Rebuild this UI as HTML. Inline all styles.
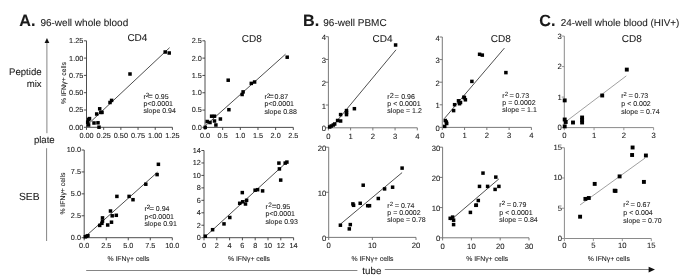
<!DOCTYPE html>
<html><head><meta charset="utf-8">
<style>
html,body{margin:0;padding:0;background:#fff;}
body{width:685px;height:279px;overflow:hidden;}
svg{display:block;filter:blur(0.3px);}
text{font-family:"Liberation Sans",sans-serif;fill:#1a1a1a;stroke:#1a1a1a;stroke-width:0.08px;text-rendering:geometricPrecision;}
</style></head>
<body>
<svg width="685" height="279" viewBox="0 0 685 279">
<rect width="685" height="279" fill="#fff"/>
<!-- panel headers -->
<text x="19.2" y="26.3" font-size="16.2" font-weight="bold">A.</text>
<text x="40.4" y="26.2" font-size="10">96-well whole blood</text>
<text x="303.0" y="26.0" font-size="16.2" font-weight="bold">B.</text>
<text x="323.3" y="26.0" font-size="10">96-well PBMC</text>
<text x="539.2" y="26.2" font-size="16.2" font-weight="bold">C.</text>
<text x="560.7" y="26.2" font-size="9.92">24-well whole blood (HIV+)</text>
<!-- row labels -->
<text x="41.6" y="75.2" font-size="9.6" text-anchor="end">Peptide</text>
<text x="41.6" y="87.0" font-size="9.6" text-anchor="end">mix</text>
<text x="39.6" y="200.2" font-size="10.3" text-anchor="end">SEB</text>
<text x="44.3" y="142.5" font-size="9.6" text-anchor="middle">plate</text>
<!-- vertical arrow -->
<path d="M46.9 42V133.2M46.6 148.2V241" stroke="#777" stroke-width="0.9"/>
<path d="M46.95 37.9L44.6 42.9L49.3 42.9Z" fill="#111"/>
<!-- horizontal arrow -->
<path d="M86.2 270.5H357.4" stroke="#777" stroke-width="0.9"/><path d="M384.8 269.5H650" stroke="#777" stroke-width="0.9"/>
<path d="M655 269.6L648.6 266.8L648.6 272.4Z" fill="#111"/>
<text x="371.9" y="273.8" font-size="9.8" text-anchor="middle">tube</text>
<path d="M86.5 40.8V127.3H172.4" fill="none" stroke="#3a3a3a" stroke-width="0.9"/>
<path d="M83.9 127.30H86.5" stroke="#3a3a3a" stroke-width="0.9"/>
<text x="83.30" y="129.70" text-anchor="end" font-size="7.3">0.00</text>
<path d="M83.9 110.00H86.5" stroke="#3a3a3a" stroke-width="0.9"/>
<text x="83.30" y="112.40" text-anchor="end" font-size="7.3">0.25</text>
<path d="M83.9 92.70H86.5" stroke="#3a3a3a" stroke-width="0.9"/>
<text x="83.30" y="95.10" text-anchor="end" font-size="7.3">0.50</text>
<path d="M83.9 75.40H86.5" stroke="#3a3a3a" stroke-width="0.9"/>
<text x="83.30" y="77.80" text-anchor="end" font-size="7.3">0.75</text>
<path d="M83.9 58.10H86.5" stroke="#3a3a3a" stroke-width="0.9"/>
<text x="83.30" y="60.50" text-anchor="end" font-size="7.3">1.00</text>
<path d="M83.9 40.80H86.5" stroke="#3a3a3a" stroke-width="0.9"/>
<text x="83.30" y="43.20" text-anchor="end" font-size="7.3">1.25</text>
<path d="M86.50 127.3V129.9" stroke="#3a3a3a" stroke-width="0.9"/>
<text x="86.50" y="137.50" text-anchor="middle" font-size="7.3">0.00</text>
<path d="M103.68 127.3V129.9" stroke="#3a3a3a" stroke-width="0.9"/>
<text x="103.68" y="137.50" text-anchor="middle" font-size="7.3">0.25</text>
<path d="M120.86 127.3V129.9" stroke="#3a3a3a" stroke-width="0.9"/>
<text x="120.86" y="137.50" text-anchor="middle" font-size="7.3">0.50</text>
<path d="M138.04 127.3V129.9" stroke="#3a3a3a" stroke-width="0.9"/>
<text x="138.04" y="137.50" text-anchor="middle" font-size="7.3">0.75</text>
<path d="M155.22 127.3V129.9" stroke="#3a3a3a" stroke-width="0.9"/>
<text x="155.22" y="137.50" text-anchor="middle" font-size="7.3">1.00</text>
<path d="M172.40 127.3V129.9" stroke="#3a3a3a" stroke-width="0.9"/>
<text x="172.40" y="137.50" text-anchor="middle" font-size="7.3">1.25</text>
<path d="M86.6 125.6L169.6 47.7" stroke="#222" stroke-width="0.8"/>
<rect x="86.85" y="117.75" width="3.5" height="3.5" fill="#000"/>
<rect x="85.95" y="120.45" width="3.5" height="3.5" fill="#000"/>
<rect x="86.85" y="123.25" width="3.5" height="3.5" fill="#000"/>
<rect x="92.25" y="121.25" width="3.5" height="3.5" fill="#000"/>
<rect x="96.25" y="121.05" width="3.5" height="3.5" fill="#000"/>
<rect x="97.25" y="125.45" width="3.5" height="3.5" fill="#000"/>
<rect x="94.95" y="112.25" width="3.5" height="3.5" fill="#000"/>
<rect x="97.95" y="107.05" width="3.5" height="3.5" fill="#000"/>
<rect x="99.05" y="110.65" width="3.5" height="3.5" fill="#000"/>
<rect x="100.25" y="110.65" width="3.5" height="3.5" fill="#000"/>
<rect x="108.25" y="100.75" width="3.5" height="3.5" fill="#000"/>
<rect x="109.85" y="98.65" width="3.5" height="3.5" fill="#000"/>
<rect x="87.75" y="116.85" width="3.5" height="3.5" fill="#000"/>
<rect x="128.25" y="72.25" width="3.5" height="3.5" fill="#000"/>
<rect x="163.45" y="50.25" width="3.5" height="3.5" fill="#000"/>
<rect x="167.45" y="51.25" width="3.5" height="3.5" fill="#000"/>
<text transform="translate(127.4 41.3) scale(1 1)" font-size="10">CD4</text>
<text x="143.55" y="98.9" font-size="7.0">r</text>
<text x="145.70" y="96.50" font-size="6.2">2</text>
<text x="147.85" y="98.9" font-size="8.6">=</text>
<text x="155.00" y="98.9" font-size="7.0">0.95</text>
<text x="143.55" y="106.05" font-size="7.0">p&lt;0.0001</text>
<text x="143.55" y="113.20" font-size="7.0">slope 0.94</text>
<text transform="translate(65.5 83.0) rotate(-90)" text-anchor="middle" font-size="6.85">% IFN&#947;+ cells</text>
<path d="M205.0 40.8V127.4H293.3" fill="none" stroke="#3a3a3a" stroke-width="0.9"/>
<path d="M202.4 127.40H205.0" stroke="#3a3a3a" stroke-width="0.9"/>
<text x="201.80" y="129.80" text-anchor="end" font-size="7.3">0.0</text>
<path d="M202.4 110.08H205.0" stroke="#3a3a3a" stroke-width="0.9"/>
<text x="201.80" y="112.48" text-anchor="end" font-size="7.3">0.5</text>
<path d="M202.4 92.76H205.0" stroke="#3a3a3a" stroke-width="0.9"/>
<text x="201.80" y="95.16" text-anchor="end" font-size="7.3">1.0</text>
<path d="M202.4 75.44H205.0" stroke="#3a3a3a" stroke-width="0.9"/>
<text x="201.80" y="77.84" text-anchor="end" font-size="7.3">1.5</text>
<path d="M202.4 58.12H205.0" stroke="#3a3a3a" stroke-width="0.9"/>
<text x="201.80" y="60.52" text-anchor="end" font-size="7.3">2.0</text>
<path d="M202.4 40.80H205.0" stroke="#3a3a3a" stroke-width="0.9"/>
<text x="201.80" y="43.20" text-anchor="end" font-size="7.3">2.5</text>
<path d="M205.00 127.4V130.0" stroke="#3a3a3a" stroke-width="0.9"/>
<text x="205.00" y="137.60" text-anchor="middle" font-size="7.3">0.0</text>
<path d="M222.66 127.4V130.0" stroke="#3a3a3a" stroke-width="0.9"/>
<text x="222.66" y="137.60" text-anchor="middle" font-size="7.3">0.5</text>
<path d="M240.32 127.4V130.0" stroke="#3a3a3a" stroke-width="0.9"/>
<text x="240.32" y="137.60" text-anchor="middle" font-size="7.3">1.0</text>
<path d="M257.98 127.4V130.0" stroke="#3a3a3a" stroke-width="0.9"/>
<text x="257.98" y="137.60" text-anchor="middle" font-size="7.3">1.5</text>
<path d="M275.64 127.4V130.0" stroke="#3a3a3a" stroke-width="0.9"/>
<text x="275.64" y="137.60" text-anchor="middle" font-size="7.3">2.0</text>
<path d="M293.30 127.4V130.0" stroke="#3a3a3a" stroke-width="0.9"/>
<text x="293.30" y="137.60" text-anchor="middle" font-size="7.3">2.5</text>
<path d="M205.2 125.9L285.5 54.2" stroke="#222" stroke-width="0.8"/>
<rect x="203.45" y="125.65" width="3.5" height="3.5" fill="#000"/>
<rect x="205.45" y="119.75" width="3.5" height="3.5" fill="#000"/>
<rect x="208.25" y="120.75" width="3.5" height="3.5" fill="#000"/>
<rect x="209.85" y="114.45" width="3.5" height="3.5" fill="#000"/>
<rect x="212.75" y="114.45" width="3.5" height="3.5" fill="#000"/>
<rect x="212.75" y="119.25" width="3.5" height="3.5" fill="#000"/>
<rect x="214.15" y="123.25" width="3.5" height="3.5" fill="#000"/>
<rect x="218.65" y="117.25" width="3.5" height="3.5" fill="#000"/>
<rect x="227.15" y="107.95" width="3.5" height="3.5" fill="#000"/>
<rect x="240.35" y="92.75" width="3.5" height="3.5" fill="#000"/>
<rect x="241.35" y="90.15" width="3.5" height="3.5" fill="#000"/>
<rect x="226.45" y="78.45" width="3.5" height="3.5" fill="#000"/>
<rect x="249.55" y="81.65" width="3.5" height="3.5" fill="#000"/>
<rect x="252.85" y="80.25" width="3.5" height="3.5" fill="#000"/>
<rect x="285.45" y="55.45" width="3.5" height="3.5" fill="#000"/>
<text transform="translate(241.8 42.3) scale(1 1)" font-size="10">CD8</text>
<text x="264.55" y="98.7" font-size="7.0">r</text>
<text x="266.75" y="97.60" font-size="6.3">2</text>
<text x="268.85" y="98.7" font-size="8.6">=</text>
<text x="274.50" y="98.7" font-size="7.0">0.87</text>
<text x="264.55" y="106.10" font-size="7.0">p&lt;0.0001</text>
<text x="264.55" y="113.50" font-size="7.0">slope 0.88</text>
<path d="M328.4 36.7V127.8H417.3" fill="none" stroke="#6a6a6a" stroke-width="0.9"/>
<path d="M325.79999999999995 127.80H328.4" stroke="#6a6a6a" stroke-width="0.9"/>
<text x="326.00" y="131.30" text-anchor="end" font-size="7.7">0</text>
<path d="M325.79999999999995 105.03H328.4" stroke="#6a6a6a" stroke-width="0.9"/>
<text x="326.00" y="108.53" text-anchor="end" font-size="7.7">1</text>
<path d="M325.79999999999995 82.25H328.4" stroke="#6a6a6a" stroke-width="0.9"/>
<text x="326.00" y="85.75" text-anchor="end" font-size="7.7">2</text>
<path d="M325.79999999999995 59.48H328.4" stroke="#6a6a6a" stroke-width="0.9"/>
<text x="326.00" y="62.98" text-anchor="end" font-size="7.7">3</text>
<path d="M325.79999999999995 36.70H328.4" stroke="#6a6a6a" stroke-width="0.9"/>
<text x="326.00" y="40.20" text-anchor="end" font-size="7.7">4</text>
<path d="M328.40 127.8V130.4" stroke="#6a6a6a" stroke-width="0.9"/>
<text x="328.40" y="138.50" text-anchor="middle" font-size="7.7">0</text>
<path d="M350.62 127.8V130.4" stroke="#6a6a6a" stroke-width="0.9"/>
<text x="350.62" y="138.50" text-anchor="middle" font-size="7.7">1</text>
<path d="M372.85 127.8V130.4" stroke="#6a6a6a" stroke-width="0.9"/>
<text x="372.85" y="138.50" text-anchor="middle" font-size="7.7">2</text>
<path d="M395.07 127.8V130.4" stroke="#6a6a6a" stroke-width="0.9"/>
<text x="395.07" y="138.50" text-anchor="middle" font-size="7.7">3</text>
<path d="M417.30 127.8V130.4" stroke="#6a6a6a" stroke-width="0.9"/>
<text x="417.30" y="138.50" text-anchor="middle" font-size="7.7">4</text>
<path d="M332.0 126.9L396.0 49.8" stroke="#222" stroke-width="0.8"/>
<rect x="327.95" y="125.25" width="3.5" height="3.5" fill="#000"/>
<rect x="329.55" y="124.25" width="3.5" height="3.5" fill="#000"/>
<rect x="331.55" y="123.25" width="3.5" height="3.5" fill="#000"/>
<rect x="332.95" y="122.25" width="3.5" height="3.5" fill="#000"/>
<rect x="335.85" y="118.75" width="3.5" height="3.5" fill="#000"/>
<rect x="338.85" y="119.25" width="3.5" height="3.5" fill="#000"/>
<rect x="338.85" y="112.85" width="3.5" height="3.5" fill="#000"/>
<rect x="344.75" y="108.85" width="3.5" height="3.5" fill="#000"/>
<rect x="344.75" y="112.85" width="3.5" height="3.5" fill="#000"/>
<rect x="344.75" y="110.75" width="3.5" height="3.5" fill="#000"/>
<rect x="352.65" y="106.95" width="3.5" height="3.5" fill="#000"/>
<rect x="393.85" y="43.25" width="3.5" height="3.5" fill="#000"/>
<text transform="translate(372.6 42.3) scale(1 1)" font-size="10">CD4</text>
<text x="387.35" y="99.0" font-size="7.0">r</text>
<text x="389.70" y="98.00" font-size="7.3">2</text>
<text x="394.60" y="99.0" font-size="7.6">=</text>
<text x="401.20" y="99.0" font-size="7.0">0.96</text>
<text x="387.35" y="106.15" font-size="7.0">p &lt; 0.0001</text>
<text x="387.35" y="113.30" font-size="7.0">slope = 1.2</text>
<path d="M442.3 37.0V127.4H531.4" fill="none" stroke="#6a6a6a" stroke-width="0.9"/>
<path d="M439.7 127.40H442.3" stroke="#6a6a6a" stroke-width="0.9"/>
<text x="439.90" y="130.90" text-anchor="end" font-size="7.7">0</text>
<path d="M439.7 104.80H442.3" stroke="#6a6a6a" stroke-width="0.9"/>
<text x="439.90" y="108.30" text-anchor="end" font-size="7.7">1</text>
<path d="M439.7 82.20H442.3" stroke="#6a6a6a" stroke-width="0.9"/>
<text x="439.90" y="85.70" text-anchor="end" font-size="7.7">2</text>
<path d="M439.7 59.60H442.3" stroke="#6a6a6a" stroke-width="0.9"/>
<text x="439.90" y="63.10" text-anchor="end" font-size="7.7">3</text>
<path d="M439.7 37.00H442.3" stroke="#6a6a6a" stroke-width="0.9"/>
<text x="439.90" y="40.50" text-anchor="end" font-size="7.7">4</text>
<path d="M442.30 127.4V130.0" stroke="#6a6a6a" stroke-width="0.9"/>
<text x="442.30" y="138.10" text-anchor="middle" font-size="7.7">0</text>
<path d="M464.57 127.4V130.0" stroke="#6a6a6a" stroke-width="0.9"/>
<text x="464.57" y="138.10" text-anchor="middle" font-size="7.7">1</text>
<path d="M486.85 127.4V130.0" stroke="#6a6a6a" stroke-width="0.9"/>
<text x="486.85" y="138.10" text-anchor="middle" font-size="7.7">2</text>
<path d="M509.12 127.4V130.0" stroke="#6a6a6a" stroke-width="0.9"/>
<text x="509.12" y="138.10" text-anchor="middle" font-size="7.7">3</text>
<path d="M531.40 127.4V130.0" stroke="#6a6a6a" stroke-width="0.9"/>
<text x="531.40" y="138.10" text-anchor="middle" font-size="7.7">4</text>
<path d="M444.3 118.6L504.4 48.1" stroke="#222" stroke-width="0.8"/>
<rect x="442.95" y="124.65" width="3.5" height="3.5" fill="#000"/>
<rect x="443.55" y="118.75" width="3.5" height="3.5" fill="#000"/>
<rect x="444.55" y="120.25" width="3.5" height="3.5" fill="#000"/>
<rect x="444.95" y="121.75" width="3.5" height="3.5" fill="#000"/>
<rect x="451.85" y="108.85" width="3.5" height="3.5" fill="#000"/>
<rect x="452.85" y="102.95" width="3.5" height="3.5" fill="#000"/>
<rect x="456.75" y="99.05" width="3.5" height="3.5" fill="#000"/>
<rect x="457.75" y="101.95" width="3.5" height="3.5" fill="#000"/>
<rect x="458.75" y="100.75" width="3.5" height="3.5" fill="#000"/>
<rect x="462.65" y="96.05" width="3.5" height="3.5" fill="#000"/>
<rect x="463.65" y="98.05" width="3.5" height="3.5" fill="#000"/>
<rect x="462.15" y="95.45" width="3.5" height="3.5" fill="#000"/>
<rect x="470.15" y="79.65" width="3.5" height="3.5" fill="#000"/>
<rect x="477.85" y="52.55" width="3.5" height="3.5" fill="#000"/>
<rect x="480.55" y="53.35" width="3.5" height="3.5" fill="#000"/>
<rect x="504.15" y="70.85" width="3.5" height="3.5" fill="#000"/>
<text transform="translate(490.7 42.3) scale(1 1)" font-size="10">CD8</text>
<text x="502.35" y="97.8" font-size="7.0">r</text>
<text x="504.75" y="96.20" font-size="6.2">2</text>
<text x="509.50" y="97.8" font-size="7.6">=</text>
<text x="515.50" y="97.8" font-size="7.0">0.73</text>
<text x="502.35" y="104.95" font-size="7.0">p = 0.0002</text>
<text x="502.35" y="112.10" font-size="7.0">slope = 1.1</text>
<path d="M564.3 36.1V127.6H653.6" fill="none" stroke="#8a8a8a" stroke-width="1.0"/>
<path d="M561.6999999999999 127.60H564.3" stroke="#8a8a8a" stroke-width="0.9"/>
<text x="561.90" y="130.00" text-anchor="end" font-size="7.7">0</text>
<path d="M561.6999999999999 97.10H564.3" stroke="#8a8a8a" stroke-width="0.9"/>
<text x="561.90" y="99.50" text-anchor="end" font-size="7.7">1</text>
<path d="M561.6999999999999 66.60H564.3" stroke="#8a8a8a" stroke-width="0.9"/>
<text x="561.90" y="69.00" text-anchor="end" font-size="7.7">2</text>
<path d="M561.6999999999999 36.10H564.3" stroke="#8a8a8a" stroke-width="0.9"/>
<text x="561.90" y="38.50" text-anchor="end" font-size="7.7">3</text>
<path d="M564.30 127.6V130.2" stroke="#8a8a8a" stroke-width="0.9"/>
<text x="564.30" y="137.80" text-anchor="middle" font-size="7.7">0</text>
<path d="M594.07 127.6V130.2" stroke="#8a8a8a" stroke-width="0.9"/>
<text x="594.07" y="137.80" text-anchor="middle" font-size="7.7">1</text>
<path d="M623.83 127.6V130.2" stroke="#8a8a8a" stroke-width="0.9"/>
<text x="623.83" y="137.80" text-anchor="middle" font-size="7.7">2</text>
<path d="M653.60 127.6V130.2" stroke="#8a8a8a" stroke-width="0.9"/>
<text x="653.60" y="137.80" text-anchor="middle" font-size="7.7">3</text>
<path d="M564.7 122.5L626.3 75.9" stroke="#777" stroke-width="0.7"/>
<rect x="562.75" y="98.45" width="3.9" height="3.9" fill="#000"/>
<rect x="562.75" y="117.55" width="3.9" height="3.9" fill="#000"/>
<rect x="563.75" y="120.05" width="3.9" height="3.9" fill="#000"/>
<rect x="562.75" y="124.45" width="3.9" height="3.9" fill="#000"/>
<rect x="571.05" y="120.55" width="3.9" height="3.9" fill="#000"/>
<rect x="580.15" y="115.55" width="3.9" height="3.9" fill="#000"/>
<rect x="580.15" y="118.05" width="3.9" height="3.9" fill="#000"/>
<rect x="580.15" y="120.55" width="3.9" height="3.9" fill="#000"/>
<rect x="600.25" y="93.55" width="3.9" height="3.9" fill="#000"/>
<rect x="624.85" y="67.65" width="3.9" height="3.9" fill="#000"/>
<text transform="translate(621.8 42.0) scale(1 1)" font-size="10">CD8</text>
<text x="621.3" y="98.1" font-size="7.0">r</text>
<text x="623.40" y="96.30" font-size="5.8">2</text>
<text x="628.40" y="98.1" font-size="7.6">=</text>
<text x="634.60" y="98.1" font-size="7.0">0.73</text>
<text x="621.3" y="106.05" font-size="7.0">p &lt; 0.002</text>
<text x="621.3" y="114.00" font-size="7.0">slope = 0.74</text>
<path d="M84.2 150.0V237.7H172.3" fill="none" stroke="#3a3a3a" stroke-width="0.9"/>
<path d="M81.60000000000001 237.70H84.2" stroke="#3a3a3a" stroke-width="0.9"/>
<text x="81.00" y="240.10" text-anchor="end" font-size="7.3">0.0</text>
<path d="M81.60000000000001 215.77H84.2" stroke="#3a3a3a" stroke-width="0.9"/>
<text x="81.00" y="218.17" text-anchor="end" font-size="7.3">2.5</text>
<path d="M81.60000000000001 193.85H84.2" stroke="#3a3a3a" stroke-width="0.9"/>
<text x="81.00" y="196.25" text-anchor="end" font-size="7.3">5.0</text>
<path d="M81.60000000000001 171.93H84.2" stroke="#3a3a3a" stroke-width="0.9"/>
<text x="81.00" y="174.33" text-anchor="end" font-size="7.3">7.5</text>
<path d="M81.60000000000001 150.00H84.2" stroke="#3a3a3a" stroke-width="0.9"/>
<text x="81.00" y="152.40" text-anchor="end" font-size="7.3">10.0</text>
<path d="M84.20 237.7V240.29999999999998" stroke="#3a3a3a" stroke-width="0.9"/>
<text x="84.20" y="247.90" text-anchor="middle" font-size="7.3">0.0</text>
<path d="M106.23 237.7V240.29999999999998" stroke="#3a3a3a" stroke-width="0.9"/>
<text x="106.23" y="247.90" text-anchor="middle" font-size="7.3">2.5</text>
<path d="M128.25 237.7V240.29999999999998" stroke="#3a3a3a" stroke-width="0.9"/>
<text x="128.25" y="247.90" text-anchor="middle" font-size="7.3">5.0</text>
<path d="M150.28 237.7V240.29999999999998" stroke="#3a3a3a" stroke-width="0.9"/>
<text x="150.28" y="247.90" text-anchor="middle" font-size="7.3">7.5</text>
<path d="M172.30 237.7V240.29999999999998" stroke="#3a3a3a" stroke-width="0.9"/>
<text x="172.30" y="247.90" text-anchor="middle" font-size="7.3">10.0</text>
<path d="M84.5 237.3L157.6 172.1" stroke="#222" stroke-width="0.8"/>
<rect x="83.55" y="235.05" width="3.5" height="3.5" fill="#000"/>
<rect x="86.15" y="233.95" width="3.5" height="3.5" fill="#000"/>
<rect x="84.75" y="234.55" width="3.5" height="3.5" fill="#000"/>
<rect x="97.95" y="223.65" width="3.5" height="3.5" fill="#000"/>
<rect x="100.75" y="216.15" width="3.5" height="3.5" fill="#000"/>
<rect x="100.75" y="219.35" width="3.5" height="3.5" fill="#000"/>
<rect x="100.15" y="221.55" width="3.5" height="3.5" fill="#000"/>
<rect x="105.95" y="223.25" width="3.5" height="3.5" fill="#000"/>
<rect x="108.75" y="209.25" width="3.5" height="3.5" fill="#000"/>
<rect x="109.75" y="220.45" width="3.5" height="3.5" fill="#000"/>
<rect x="110.45" y="214.05" width="3.5" height="3.5" fill="#000"/>
<rect x="114.55" y="213.55" width="3.5" height="3.5" fill="#000"/>
<rect x="115.15" y="194.65" width="3.5" height="3.5" fill="#000"/>
<rect x="127.35" y="194.65" width="3.5" height="3.5" fill="#000"/>
<rect x="131.25" y="197.95" width="3.5" height="3.5" fill="#000"/>
<rect x="144.05" y="182.45" width="3.5" height="3.5" fill="#000"/>
<rect x="155.35" y="172.85" width="3.5" height="3.5" fill="#000"/>
<rect x="156.65" y="162.55" width="3.5" height="3.5" fill="#000"/>
<text x="144.55" y="211.3" font-size="7.0">r</text>
<text x="146.85" y="209.10" font-size="6.0">2</text>
<text x="149.25" y="211.3" font-size="8.3">=</text>
<text x="155.80" y="211.3" font-size="7.0">0.94</text>
<text x="144.55" y="218.70" font-size="7.0">p&lt;0.0001</text>
<text x="144.55" y="226.10" font-size="7.0">slope 0.91</text>
<text transform="translate(65.3 193.6) rotate(-90)" text-anchor="middle" font-size="6.85">% IFN&#947;+ cells</text>
<text x="128.5" y="260.6" text-anchor="middle" font-size="6.85">% IFN&#947;+ cells</text>
<path d="M204.0 150.5V237.7H293.6" fill="none" stroke="#3a3a3a" stroke-width="0.9"/>
<path d="M201.4 237.70H204.0" stroke="#3a3a3a" stroke-width="0.9"/>
<text x="200.80" y="240.10" text-anchor="end" font-size="7.3">0</text>
<path d="M201.4 225.24H204.0" stroke="#3a3a3a" stroke-width="0.9"/>
<text x="200.80" y="227.64" text-anchor="end" font-size="7.3">2</text>
<path d="M201.4 212.79H204.0" stroke="#3a3a3a" stroke-width="0.9"/>
<text x="200.80" y="215.19" text-anchor="end" font-size="7.3">4</text>
<path d="M201.4 200.33H204.0" stroke="#3a3a3a" stroke-width="0.9"/>
<text x="200.80" y="202.73" text-anchor="end" font-size="7.3">6</text>
<path d="M201.4 187.87H204.0" stroke="#3a3a3a" stroke-width="0.9"/>
<text x="200.80" y="190.27" text-anchor="end" font-size="7.3">8</text>
<path d="M201.4 175.41H204.0" stroke="#3a3a3a" stroke-width="0.9"/>
<text x="200.80" y="177.81" text-anchor="end" font-size="7.3">10</text>
<path d="M201.4 162.96H204.0" stroke="#3a3a3a" stroke-width="0.9"/>
<text x="200.80" y="165.36" text-anchor="end" font-size="7.3">12</text>
<path d="M201.4 150.50H204.0" stroke="#3a3a3a" stroke-width="0.9"/>
<text x="200.80" y="152.90" text-anchor="end" font-size="7.3">14</text>
<path d="M204.00 237.7V240.29999999999998" stroke="#3a3a3a" stroke-width="0.9"/>
<text x="204.00" y="247.90" text-anchor="middle" font-size="7.3">0</text>
<path d="M216.80 237.7V240.29999999999998" stroke="#3a3a3a" stroke-width="0.9"/>
<text x="216.80" y="247.90" text-anchor="middle" font-size="7.3">2</text>
<path d="M229.60 237.7V240.29999999999998" stroke="#3a3a3a" stroke-width="0.9"/>
<text x="229.60" y="247.90" text-anchor="middle" font-size="7.3">4</text>
<path d="M242.40 237.7V240.29999999999998" stroke="#3a3a3a" stroke-width="0.9"/>
<text x="242.40" y="247.90" text-anchor="middle" font-size="7.3">6</text>
<path d="M255.20 237.7V240.29999999999998" stroke="#3a3a3a" stroke-width="0.9"/>
<text x="255.20" y="247.90" text-anchor="middle" font-size="7.3">8</text>
<path d="M268.00 237.7V240.29999999999998" stroke="#3a3a3a" stroke-width="0.9"/>
<text x="268.00" y="247.90" text-anchor="middle" font-size="7.3">10</text>
<path d="M280.80 237.7V240.29999999999998" stroke="#3a3a3a" stroke-width="0.9"/>
<text x="280.80" y="247.90" text-anchor="middle" font-size="7.3">12</text>
<path d="M293.60 237.7V240.29999999999998" stroke="#3a3a3a" stroke-width="0.9"/>
<text x="293.60" y="247.90" text-anchor="middle" font-size="7.3">14</text>
<path d="M204.5 237.3L287.7 161.3" stroke="#222" stroke-width="0.8"/>
<rect x="203.55" y="234.45" width="3.5" height="3.5" fill="#000"/>
<rect x="210.85" y="227.95" width="3.5" height="3.5" fill="#000"/>
<rect x="222.25" y="222.15" width="3.5" height="3.5" fill="#000"/>
<rect x="228.05" y="215.75" width="3.5" height="3.5" fill="#000"/>
<rect x="237.95" y="201.55" width="3.5" height="3.5" fill="#000"/>
<rect x="240.55" y="190.85" width="3.5" height="3.5" fill="#000"/>
<rect x="240.95" y="200.05" width="3.5" height="3.5" fill="#000"/>
<rect x="243.75" y="202.25" width="3.5" height="3.5" fill="#000"/>
<rect x="244.85" y="198.55" width="3.5" height="3.5" fill="#000"/>
<rect x="253.35" y="188.45" width="3.5" height="3.5" fill="#000"/>
<rect x="255.85" y="187.95" width="3.5" height="3.5" fill="#000"/>
<rect x="260.85" y="189.15" width="3.5" height="3.5" fill="#000"/>
<rect x="277.15" y="161.35" width="3.5" height="3.5" fill="#000"/>
<rect x="283.45" y="161.35" width="3.5" height="3.5" fill="#000"/>
<rect x="285.15" y="160.35" width="3.5" height="3.5" fill="#000"/>
<rect x="277.65" y="167.15" width="3.5" height="3.5" fill="#000"/>
<rect x="278.95" y="178.35" width="3.5" height="3.5" fill="#000"/>
<text x="265.55" y="208.8" font-size="7.0">r</text>
<text x="268.25" y="207.20" font-size="6.4">2</text>
<text x="271.75" y="208.8" font-size="8.6">=</text>
<text x="276.60" y="208.8" font-size="7.0">0.95</text>
<text x="265.55" y="216.40" font-size="7.0">p&lt;0.0001</text>
<text x="265.55" y="224.00" font-size="7.0">slope 0.93</text>
<text x="249.0" y="260.6" text-anchor="middle" font-size="6.85">% IFN&#947;+ cells</text>
<path d="M328.7 147.2V237.4H416.0" fill="none" stroke="#6a6a6a" stroke-width="0.9"/>
<path d="M326.09999999999997 237.40H328.7" stroke="#6a6a6a" stroke-width="0.9"/>
<text x="326.30" y="240.90" text-anchor="end" font-size="7.7">0</text>
<path d="M326.09999999999997 192.30H328.7" stroke="#6a6a6a" stroke-width="0.9"/>
<text x="326.30" y="195.80" text-anchor="end" font-size="7.7">10</text>
<path d="M326.09999999999997 147.20H328.7" stroke="#6a6a6a" stroke-width="0.9"/>
<text x="326.30" y="150.70" text-anchor="end" font-size="7.7">20</text>
<path d="M328.70 237.4V240.0" stroke="#6a6a6a" stroke-width="0.9"/>
<text x="328.70" y="248.10" text-anchor="middle" font-size="7.7">0</text>
<path d="M372.35 237.4V240.0" stroke="#6a6a6a" stroke-width="0.9"/>
<text x="372.35" y="248.10" text-anchor="middle" font-size="7.7">10</text>
<path d="M416.00 237.4V240.0" stroke="#6a6a6a" stroke-width="0.9"/>
<text x="416.00" y="248.10" text-anchor="middle" font-size="7.7">20</text>
<path d="M340.4 224.2L402.1 172.6" stroke="#222" stroke-width="0.8"/>
<rect x="338.65" y="223.45" width="3.5" height="3.5" fill="#000"/>
<rect x="347.55" y="227.15" width="3.5" height="3.5" fill="#000"/>
<rect x="348.55" y="222.85" width="3.5" height="3.5" fill="#000"/>
<rect x="351.15" y="202.15" width="3.5" height="3.5" fill="#000"/>
<rect x="351.85" y="203.55" width="3.5" height="3.5" fill="#000"/>
<rect x="358.45" y="201.55" width="3.5" height="3.5" fill="#000"/>
<rect x="365.95" y="203.95" width="3.5" height="3.5" fill="#000"/>
<rect x="367.75" y="203.95" width="3.5" height="3.5" fill="#000"/>
<rect x="361.45" y="183.45" width="3.5" height="3.5" fill="#000"/>
<rect x="376.55" y="196.75" width="3.5" height="3.5" fill="#000"/>
<rect x="382.85" y="187.15" width="3.5" height="3.5" fill="#000"/>
<rect x="390.85" y="185.45" width="3.5" height="3.5" fill="#000"/>
<rect x="400.35" y="166.35" width="3.5" height="3.5" fill="#000"/>
<text x="387.35" y="207.7" font-size="7.0">r</text>
<text x="389.80" y="206.10" font-size="6.2">2</text>
<text x="394.70" y="207.7" font-size="7.6">=</text>
<text x="400.90" y="207.7" font-size="7.0">0.74</text>
<text x="387.35" y="214.85" font-size="7.0">p = 0.0002</text>
<text x="387.35" y="222.00" font-size="7.0">slope = 0.78</text>
<text x="372.5" y="260.6" text-anchor="middle" font-size="6.85">% IFN&#947;+ cells</text>
<path d="M442.6 147.2V237.8H529.0" fill="none" stroke="#6a6a6a" stroke-width="0.9"/>
<path d="M440.0 237.80H442.6" stroke="#6a6a6a" stroke-width="0.9"/>
<text x="440.20" y="241.30" text-anchor="end" font-size="7.7">0</text>
<path d="M440.0 207.60H442.6" stroke="#6a6a6a" stroke-width="0.9"/>
<text x="440.20" y="211.10" text-anchor="end" font-size="7.7">10</text>
<path d="M440.0 177.40H442.6" stroke="#6a6a6a" stroke-width="0.9"/>
<text x="440.20" y="180.90" text-anchor="end" font-size="7.7">20</text>
<path d="M440.0 147.20H442.6" stroke="#6a6a6a" stroke-width="0.9"/>
<text x="440.20" y="150.70" text-anchor="end" font-size="7.7">30</text>
<path d="M442.60 237.8V240.4" stroke="#6a6a6a" stroke-width="0.9"/>
<text x="442.60" y="248.50" text-anchor="middle" font-size="7.7">0</text>
<path d="M471.40 237.8V240.4" stroke="#6a6a6a" stroke-width="0.9"/>
<text x="471.40" y="248.50" text-anchor="middle" font-size="7.7">10</text>
<path d="M500.20 237.8V240.4" stroke="#6a6a6a" stroke-width="0.9"/>
<text x="500.20" y="248.50" text-anchor="middle" font-size="7.7">20</text>
<path d="M529.00 237.8V240.4" stroke="#6a6a6a" stroke-width="0.9"/>
<text x="529.00" y="248.50" text-anchor="middle" font-size="7.7">30</text>
<path d="M450.6 220.2L498.9 178.9" stroke="#222" stroke-width="0.8"/>
<rect x="448.45" y="216.55" width="3.5" height="3.5" fill="#000"/>
<rect x="450.85" y="215.35" width="3.5" height="3.5" fill="#000"/>
<rect x="451.85" y="218.45" width="3.5" height="3.5" fill="#000"/>
<rect x="451.85" y="222.85" width="3.5" height="3.5" fill="#000"/>
<rect x="468.65" y="210.65" width="3.5" height="3.5" fill="#000"/>
<rect x="474.15" y="203.55" width="3.5" height="3.5" fill="#000"/>
<rect x="476.55" y="198.75" width="3.5" height="3.5" fill="#000"/>
<rect x="474.55" y="203.45" width="3.5" height="3.5" fill="#000"/>
<rect x="477.75" y="184.65" width="3.5" height="3.5" fill="#000"/>
<rect x="481.25" y="171.35" width="3.5" height="3.5" fill="#000"/>
<rect x="485.85" y="184.65" width="3.5" height="3.5" fill="#000"/>
<rect x="493.35" y="187.65" width="3.5" height="3.5" fill="#000"/>
<rect x="497.15" y="184.65" width="3.5" height="3.5" fill="#000"/>
<rect x="494.05" y="175.35" width="3.5" height="3.5" fill="#000"/>
<text x="499.35" y="207.2" font-size="7.0">r</text>
<text x="501.80" y="205.30" font-size="6">2</text>
<text x="506.70" y="207.2" font-size="7.6">=</text>
<text x="512.70" y="207.2" font-size="7.0">0.79</text>
<text x="499.35" y="214.50" font-size="7.0">p &lt; 0.0001</text>
<text x="499.35" y="221.80" font-size="7.0">slope = 0.84</text>
<text x="487.2" y="260.6" text-anchor="middle" font-size="6.85">% IFN&#947;+ cells</text>
<path d="M564.4 147.7V238.5H651.3" fill="none" stroke="#8a8a8a" stroke-width="1.0"/>
<path d="M561.8 238.50H564.4" stroke="#8a8a8a" stroke-width="0.9"/>
<text x="562.00" y="240.90" text-anchor="end" font-size="7.7">0</text>
<path d="M561.8 208.23H564.4" stroke="#8a8a8a" stroke-width="0.9"/>
<text x="562.00" y="210.63" text-anchor="end" font-size="7.7">5</text>
<path d="M561.8 177.97H564.4" stroke="#8a8a8a" stroke-width="0.9"/>
<text x="562.00" y="180.37" text-anchor="end" font-size="7.7">10</text>
<path d="M561.8 147.70H564.4" stroke="#8a8a8a" stroke-width="0.9"/>
<text x="562.00" y="150.10" text-anchor="end" font-size="7.7">15</text>
<path d="M564.40 238.5V241.1" stroke="#8a8a8a" stroke-width="0.9"/>
<text x="564.40" y="248.00" text-anchor="middle" font-size="7.7">0</text>
<path d="M593.37 238.5V241.1" stroke="#8a8a8a" stroke-width="0.9"/>
<text x="593.37" y="248.00" text-anchor="middle" font-size="7.7">5</text>
<path d="M622.33 238.5V241.1" stroke="#8a8a8a" stroke-width="0.9"/>
<text x="622.33" y="248.00" text-anchor="middle" font-size="7.7">10</text>
<path d="M651.30 238.5V241.1" stroke="#8a8a8a" stroke-width="0.9"/>
<text x="651.30" y="248.00" text-anchor="middle" font-size="7.7">15</text>
<path d="M580.1 204.9L645.1 158.0" stroke="#777" stroke-width="0.7"/>
<rect x="578.15" y="214.75" width="3.9" height="3.9" fill="#000"/>
<rect x="583.45" y="196.95" width="3.9" height="3.9" fill="#000"/>
<rect x="586.85" y="196.05" width="3.9" height="3.9" fill="#000"/>
<rect x="592.75" y="181.95" width="3.9" height="3.9" fill="#000"/>
<rect x="612.75" y="188.75" width="3.9" height="3.9" fill="#000"/>
<rect x="613.55" y="188.95" width="3.9" height="3.9" fill="#000"/>
<rect x="617.65" y="174.45" width="3.9" height="3.9" fill="#000"/>
<rect x="641.95" y="179.95" width="3.9" height="3.9" fill="#000"/>
<rect x="630.65" y="145.55" width="3.9" height="3.9" fill="#000"/>
<rect x="630.15" y="153.05" width="3.9" height="3.9" fill="#000"/>
<rect x="643.95" y="153.55" width="3.9" height="3.9" fill="#000"/>
<text x="623.35" y="206.8" font-size="7.0">r</text>
<text x="625.80" y="204.90" font-size="6.2">2</text>
<text x="630.50" y="206.8" font-size="7.6">=</text>
<text x="636.70" y="206.8" font-size="7.0">0.67</text>
<text x="623.35" y="214.65" font-size="7.0">p &lt; 0.004</text>
<text x="623.35" y="222.50" font-size="7.0">slope = 0.70</text>
<text x="608.8" y="260.6" text-anchor="middle" font-size="6.85">% IFN&#947;+ cells</text>
</svg>
</body></html>
